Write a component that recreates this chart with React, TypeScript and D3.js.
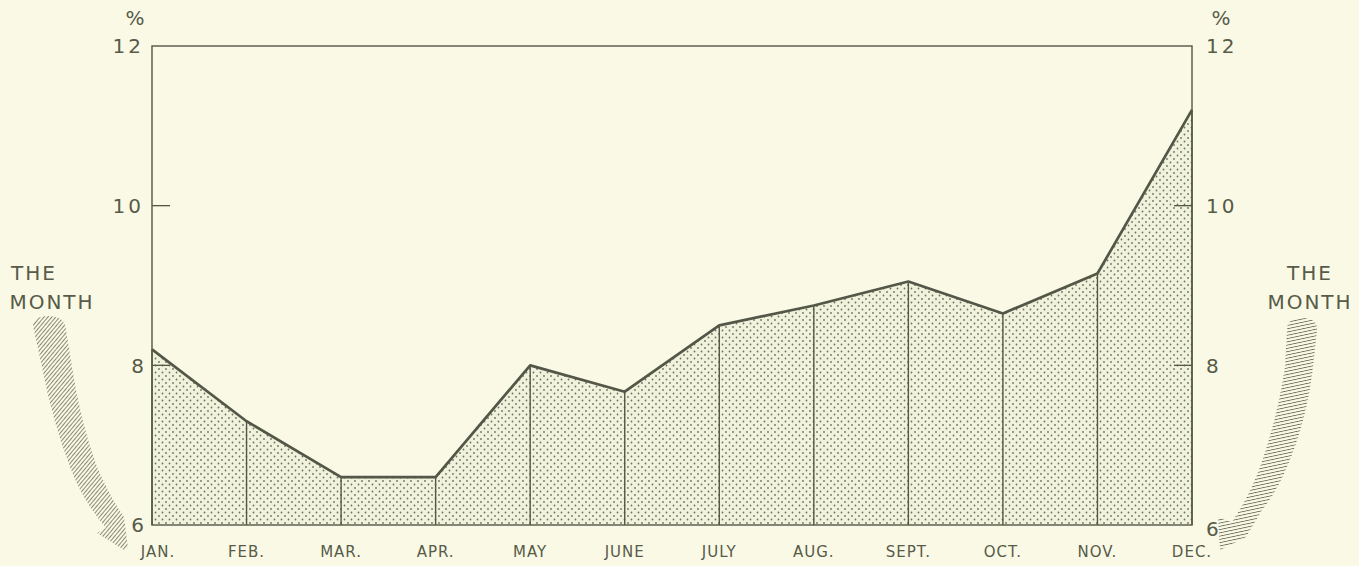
import React from 'react';
import * as d3 from 'd3';

const months = ['JAN.', 'FEB.', 'MAR.', 'APR.', 'MAY', 'JUNE', 'JULY', 'AUG.', 'SEPT.', 'OCT.', 'NOV.', 'DEC.'];
const values = [8.2, 7.3, 6.6, 6.6, 8.0, 7.67, 8.5, 8.75, 9.05, 8.65, 9.15, 11.2];
const yTicks = [6, 8, 10, 12];

const W = 1359;
const H = 566;
const left = 152;
const right = 1192;
const top = 46;
const bottom = 525;

const ink = '#535747';
const textInk = '#575b48';
const bg = '#f9f9e6';
const font = "'DejaVu Sans', 'Liberation Sans', sans-serif";

const App: React.FC = () => {
  const x = d3.scalePoint<number>().domain(d3.range(months.length)).range([left, right]);
  const y = d3.scaleLinear().domain([6, 12]).range([bottom, top]);

  const area = d3
    .area<number>()
    .x((_, i) => x(i)!)
    .y0(bottom)
    .y1((d) => y(d));
  const line = d3
    .line<number>()
    .x((_, i) => x(i)!)
    .y((d) => y(d));

  // curved hatched arrows beside the axes
  const leftArrow =
    'M 33,326 Q 33,316 48,316 Q 65,316 66,330 L 72,367 Q 80,420 97,467 Q 110,497 124,517 L 128,548 L 124,550 L 97,533 L 106,528 Q 82,500 70,467 Q 52,420 42,367 Z';
  const rightArrow =
    'M 1287,330 Q 1287,318 1302,318 Q 1318,318 1317,330 L 1313,367 Q 1307,420 1287,467 Q 1276,493 1262,510 L 1246,537 L 1220,550 L 1218,517 L 1232,522 Q 1250,495 1260,467 Q 1277,420 1285,367 Z';

  return (
    <svg width={W} height={H} style={{ position: 'absolute', left: 0, top: 0, background: bg }}>
      <defs>
        <pattern id="dots" width={7} height={7} patternUnits="userSpaceOnUse">
          <circle cx={1.5} cy={1.5} r={0.9} fill="#6f7262" />
          <circle cx={5} cy={5} r={0.9} fill="#6f7262" />
        </pattern>
        <pattern id="hatchL" width={3} height={3} patternUnits="userSpaceOnUse" patternTransform="rotate(40)">
          <line x1={0} y1={0} x2={0} y2={3} stroke="#6a6c5c" strokeWidth={1.6} />
        </pattern>
        <pattern id="hatchR" width={3.2} height={3.2} patternUnits="userSpaceOnUse" patternTransform="rotate(-12)">
          <line x1={0} y1={0} x2={3.2} y2={0} stroke="#6a6c5c" strokeWidth={1.7} />
        </pattern>
      </defs>
      <rect width={W} height={H} fill={bg} />

      {/* stippled area under the line */}
      <path d={area(values)!} fill="#f1f2dc" />
      <path d={area(values)!} fill="url(#dots)" />

      {/* vertical month rules */}
      {values.map((v, i) => (
        <line key={i} x1={x(i)} x2={x(i)} y1={bottom} y2={y(v)} stroke={ink} strokeWidth={1.4} />
      ))}

      {/* frame */}
      <rect x={left} y={top} width={right - left} height={bottom - top} fill="none" stroke={ink} strokeWidth={1.4} />

      {/* small ticks at 8 and 10 */}
      {[8, 10].map((t) => (
        <g key={t}>
          <line x1={left} x2={left + 18} y1={y(t)} y2={y(t)} stroke={ink} strokeWidth={1.3} />
          <line x1={right - 18} x2={right} y1={y(t)} y2={y(t)} stroke={ink} strokeWidth={1.3} />
        </g>
      ))}

      <path d={line(values)!} fill="none" stroke={ink} strokeWidth={2.7} strokeLinejoin="round" />

      {/* y labels */}
      {yTicks.map((t) => (
        <g key={t} fontFamily={font} fontSize={20} fill={textInk}>
          <text x={left - 8} y={y(t)} dy="0.36em" textAnchor="end" letterSpacing={t >= 10 ? 3 : 0}>
            {t}
          </text>
          <text x={right + 14} y={y(t) + (t === 6 ? 4 : 0)} dy="0.36em" textAnchor="start" letterSpacing={t >= 10 ? 3 : 0}>
            {t}
          </text>
        </g>
      ))}
      <text x={left - 17} y={25} fontFamily={font} fontSize={20} fill={textInk} textAnchor="middle">
        %
      </text>
      <text x={right + 29} y={25} fontFamily={font} fontSize={20} fill={textInk} textAnchor="middle">
        %
      </text>

      {/* month labels */}
      {months.map((m, i) => (
        <text
          key={m}
          x={x(i)! + (i === 0 ? 6 : 0)}
          y={557}
          fontFamily={font}
          fontSize={15}
          letterSpacing={1}
          fill={textInk}
          textAnchor="middle"
        >
          {m}
        </text>
      ))}

      {/* THE MONTH notes */}
      <g fontFamily={font} fontSize={20} letterSpacing={2} fill={textInk} textAnchor="middle">
        <text x={34} y={280}>THE</text>
        <text x={52} y={309}>MONTH</text>
        <text x={1310} y={280}>THE</text>
        <text x={1310} y={309}>MONTH</text>
      </g>
      <path d={leftArrow} fill="url(#hatchL)" />
      <path d={rightArrow} fill="url(#hatchR)" />
    </svg>
  );
};

export default App;
